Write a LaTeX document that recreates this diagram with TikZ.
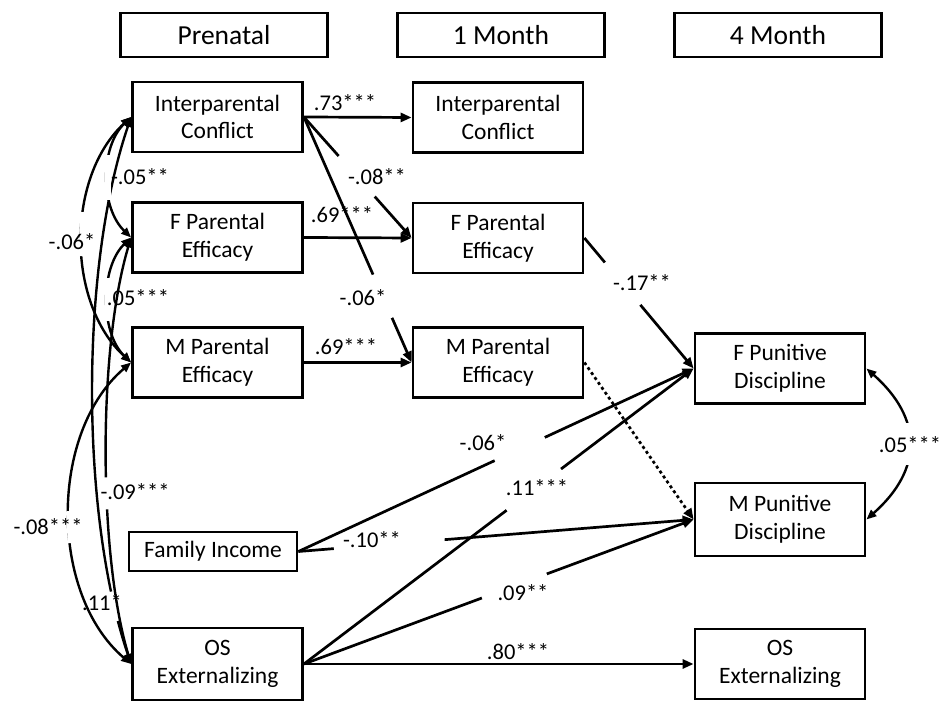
\documentclass[tikz,border=0pt]{standalone}
\usepackage{fontspec}
\setmainfont{Carlito}
\usetikzlibrary{arrows.meta}
\begin{document}
\begin{tikzpicture}[x=1pt,y=1pt,
  box/.style={draw, line width=2.8pt, minimum width=170pt, minimum height=70pt, align=center, inner sep=0pt, font=\fontsize{23.5}{27.7}\selectfont},
  hdr/.style={draw, line width=2.8pt, minimum width=207pt, minimum height=44pt, inner sep=0pt, font=\fontsize{27.5}{32}\selectfont},
  lbl/.style={font=\fontsize{22.5}{26}\selectfont, inner sep=0pt},
  reg/.style={line width=2.7pt, -{Triangle[length=11pt,width=9pt]}},
  cov/.style={line width=2.4pt, {Triangle[length=10pt,width=8pt]}-{Triangle[length=10pt,width=8pt]}},
  gapn/.style={fill=white, inner sep=0pt, minimum height=6pt, minimum width=#1, sloped},
]
\useasboundingbox (0,0) rectangle (945,703);

% headers
\node[hdr] (hPre) at (224,668) {Prenatal};
\node[hdr] (h1) at (501,668) {1 Month};
\node[hdr] (h4) at (778,668) {4 Month};

% boxes
\node[box] (ic0) at (217.5,586) {Interparental\\Conflict};
\node[box] (fpe0) at (217.5,465.5) {F Parental\\Efficacy};
\node[box] (mpe0) at (217.5,340.5) {M Parental\\Efficacy};
\node[box, minimum width=168pt, minimum height=39pt] (fi) at (213,151.5) {Family Income};
\node[box, minimum height=72pt] (os0) at (217.5,39) {OS\\Externalizing};
\node[box] (ic1) at (498,585.5) {Interparental\\Conflict};
\node[box] (fpe1) at (498,465) {F Parental\\Efficacy};
\node[box] (mpe1) at (498,340.5) {M Parental\\Efficacy};
\node[box] (fpd) at (780,334.5) {F Punitive\\Discipline};
\node[box, minimum height=73pt] (mpd) at (780,183.5) {M Punitive\\Discipline};
\node[box] (os4) at (780,39) {OS\\Externalizing};

% stability paths
\draw[reg] (ic0.east) -- (ic1.west);
\node[lbl] (l73) at (345,600) {.73***};
\node[lbl] (l69a) at (342,488) {.69***};
\draw[reg] (fpe0.east) -- (fpe1.west);
\node[lbl] (l69b) at (346,356) {.69***};
\draw[reg] (mpe0.east) -- (mpe1.west);

% cross-lagged
\draw[reg] (ic0.east) -- node[gapn=54pt, pos=0.49]{} (fpe1.west);
\node[lbl] (l08) at (377,526) {-.08**};
\draw[reg] (ic0.east) -- node[gapn=47pt, pos=0.73]{} (mpe1.west);
\node[lbl] (l06a) at (363,405) {-.06*};
\draw[reg] (fpe1.east) -- node[gapn=55pt, pos=0.35]{} (fpd.west);
\node[lbl] (l17) at (642,420) {-.17**};
\draw[reg, dash pattern=on 3pt off 3pt] (mpe1.east) -- (mpd.west);

\draw[reg] (fi.east) -- node[gapn=55pt, pos=0.56]{} (fpd.west);
\node[lbl] (l06b) at (483,260) {-.06*};
\draw[reg] (fi.east) -- node[gapn=111pt, pos=0.23]{} (mpd.west);
\node[lbl] (l10) at (372,163) {-.10**};

\draw[reg] (os0.east) -- node[gapn=68pt, pos=0.59]{} (fpd.west);
\node[lbl] (l11a) at (537,215) {.11***};
\draw[reg] (os0.east) -- node[gapn=69pt, pos=0.54]{} (mpd.west);
\node[lbl] (l09a) at (523,110) {.09**};
\draw[reg] (os0.east) -- (os4.west);
\node[lbl] (l80) at (518,51) {.80***};

% right covariance
\draw[cov] (fpd.east) .. controls (923,284.5) and (923,233.5) .. node[gapn=42pt, pos=0.5]{} (mpd.east);
\node[lbl] (l05r) at (910,258) {.05***};

% left covariances
\draw[cov] (mpe0.west) .. controls (49,270.5) and (49,109) .. node[gapn=32pt, pos=0.54]{} (os0.west);
\node[lbl] (l08c) at (48,176) {-.08***};
\draw[cov] (ic0.west) .. controls (66,526) and (66,400.5) .. node[gapn=44pt, pos=0.48]{} (mpe0.west);
\node[lbl] (l06c) at (72,461) {-.06*};
\draw[cov] (ic0.west) .. controls (80,436) and (80,189) .. node[gapn=30pt, pos=0.88]{} (os0.west);
\node[lbl] (l11c) at (102,100) {.11*};
\draw[cov] (fpe0.west) .. controls (98,355.5) and (98,149) .. node[gapn=32pt, pos=0.59]{} (os0.west);
\node[lbl] (l09c) at (135,211) {-.09***};
\draw[cov] (ic0.west) .. controls (100,556) and (100,495.5) .. node[gapn=45pt, pos=0.5]{} (fpe0.west);
\node[lbl] (l05a) at (140,526) {-.05**};
\draw[cov] (fpe0.west) .. controls (100,435.5) and (100,370.5) .. node[gapn=43pt, pos=0.5]{} (mpe0.west);
\node[lbl] (l05b) at (138,405) {.05***};
\end{tikzpicture}
\end{document}
